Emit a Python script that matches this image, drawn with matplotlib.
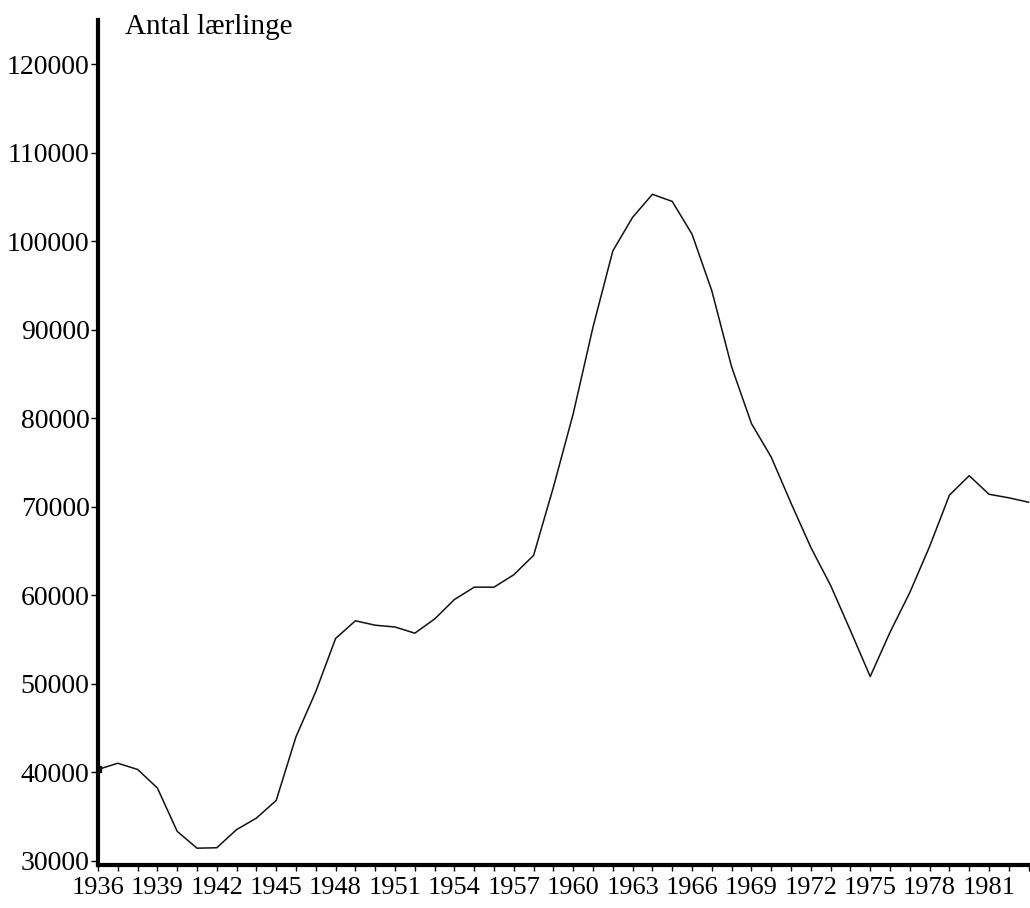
import matplotlib.pyplot as plt
from matplotlib.ticker import FixedLocator, MultipleLocator

plt.rcParams['font.family'] = ['Liberation Serif', 'DejaVu Serif']

years = list(range(1936, 1984))
laerlinge = [40300, 41000, 40300, 38200, 33300, 31400, 31450, 33500, 34800, 36800,
             44000, 49100, 55100, 57100, 56600, 56400, 55700, 57300, 59500, 60900,
             60900, 62300, 64500, 72200, 80500, 90300, 98900, 102700, 105300, 104500,
             100800, 94400, 85800, 79400, 75600, 70400, 65400, 61100, 56000, 50800,
             55800, 60300, 65500, 71300, 73500, 71400, 71000, 70500]
year_labels = list(range(1936, 1982, 3))
y_ticks = list(range(30000, 120001, 10000))

fig = plt.figure(figsize=(10.3, 9.08), dpi=100)
ax = fig.add_axes([98/1030, 43/908, 932/1030, 845/908])

ax.plot(years, laerlinge, color='#111111', linewidth=1.1)
ax.plot(years[:1], laerlinge[:1], marker='s', markersize=4, color='#111111')

ax.set_xlim(1936, 1983.07)
ax.set_ylim(29500, 125000)

for s in ['top', 'right']:
    ax.spines[s].set_visible(False)
for s in ['left', 'bottom']:
    ax.spines[s].set_linewidth(3)
    ax.spines[s].set_color('black')

ax.xaxis.set_major_locator(FixedLocator(year_labels))
ax.xaxis.set_minor_locator(MultipleLocator(1))
ax.set_xticklabels([str(y) for y in year_labels])
ax.yaxis.set_major_locator(FixedLocator(y_ticks))
ax.set_yticklabels([str(v) for v in y_ticks])

ax.tick_params(axis='x', which='both', direction='out', length=4, width=1, pad=5, labelsize=19)
ax.tick_params(axis='y', direction='out', length=5, width=1, pad=1, labelsize=20)

fig.text(125/1030, 1 - 27/908, 'Antal lærlinge', fontsize=21, ha='left', va='center')

plt.savefig('out.png', dpi=100)
